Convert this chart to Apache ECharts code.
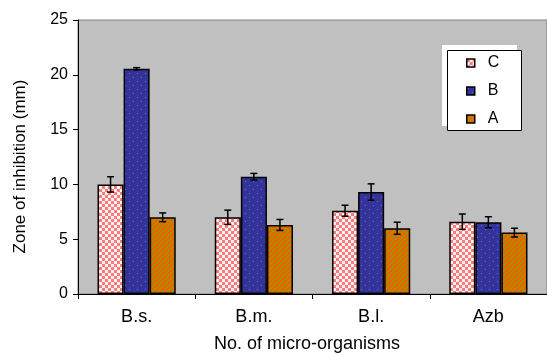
<!DOCTYPE html>
<html><head><meta charset="utf-8">
<script src="https://cdn.jsdelivr.net/npm/echarts@6/dist/echarts.min.js"></script>
<style>html,body{margin:0;padding:0;background:#fff}#c{width:547px;height:356px}</style>
</head><body><div id="c"></div>
<script>
const categories = ['B.s.', 'B.m.', 'B.l.', 'Azb'];
const seriesNames = ['C', 'B', 'A'];
const valuesC = [10.0, 7.0, 7.6, 6.6];
const valuesB = [20.55, 10.7, 9.3, 6.55];
const valuesA = [7.0, 6.3, 6.0, 5.6];
const errC = [0.7, 0.65, 0.5, 0.7];
const errB = [0.1, 0.3, 0.75, 0.5];
const errA = [0.4, 0.5, 0.55, 0.4];
const yTicks = [0, 5, 10, 15, 20, 25];
const xTitle = 'No. of micro-organisms';
const yTitle = 'Zone of inhibition (mm)';

const FONT = "'Liberation Sans', Arial, sans-serif";

function tile(w, h, draw) {
  const c = document.createElement('canvas');
  c.width = w; c.height = h;
  draw(c.getContext('2d'));
  return c;
}
const patC = tile(6, 6, g => {
  g.fillStyle = '#fff2f2'; g.fillRect(0, 0, 6, 6);
  g.fillStyle = '#ff7b7b'; g.fillRect(0, 0, 3, 3); g.fillRect(3, 3, 3, 3);
});
const patB = tile(8, 8, g => {
  g.fillStyle = '#333399'; g.fillRect(0, 0, 8, 8);
  g.fillStyle = '#6b6bd0'; g.fillRect(1, 1, 1, 1); g.fillRect(5, 5, 1, 1);
});
const patA = tile(5, 5, g => {
  for (let x = 0; x < 5; x++) for (let y = 0; y < 5; y++) {
    g.fillStyle = ((x + y) % 5 < 3) ? '#ff5a00' : '#8ca000';
    g.fillRect(x, y, 1, 1);
  }
});
const patterns = [patC, patB, patA];
const values = [valuesC, valuesB, valuesA];
const errs = [errC, errB, errA];

const GAP = 0.333;
const barSeries = seriesNames.map((n, k) => ({
  name: n, type: 'bar', data: values[k],
  barGap: '0%', barCategoryGap: '33.3%',
  itemStyle: { color: { image: patterns[k], repeat: 'repeat' }, borderColor: '#000', borderWidth: 1.5 },
  z: 2
}));
const errSeries = seriesNames.map((n, k) => ({
  type: 'custom', z: 5, silent: true,
  data: categories.map((c, i) => [i, values[k][i], errs[k][i]]),
  renderItem: function (params, api) {
    const i = api.value(0), v = api.value(1), e = api.value(2);
    const band = api.size([1, 0])[0];
    const bw = band * (1 - GAP) / 3;
    const x = api.coord([i, v])[0] + (k - 1) * bw;
    const yt = api.coord([i, v + e])[1];
    const yb = api.coord([i, v - e])[1];
    const cw = 3.5;
    const st = { stroke: '#000', lineWidth: 1.5 };
    return { type: 'group', children: [
      { type: 'line', shape: { x1: x, y1: yt, x2: x, y2: yb }, style: st },
      { type: 'line', shape: { x1: x - cw, y1: yt, x2: x + cw, y2: yt }, style: st },
      { type: 'line', shape: { x1: x - cw, y1: yb, x2: x + cw, y2: yb }, style: st }
    ] };
  }
}));

const chart = echarts.init(document.getElementById('c'), null, { renderer: 'canvas' });
chart.setOption({
  animation: false,
  textStyle: { fontFamily: FONT },
  grid: { left: 78, top: 20, width: 479, height: 274, show: true, backgroundColor: '#c0c0c0', borderColor: '#808080', borderWidth: 1 },
  legend: {
    data: seriesNames, orient: 'vertical', left: 466, top: 54, icon: 'rect',
    padding: 0, itemGap: 10, itemWidth: 8, itemHeight: 8,
    textStyle: { fontSize: 16, color: '#000', lineHeight: 18, fontFamily: FONT, padding: [0, 0, 0, 8] },
    itemStyle: { borderWidth: 1.5, borderColor: '#000' },
    z: 10
  },
  graphic: [
    { type: 'rect', z: 6, shape: { x: 442, y: 45, width: 75, height: 81 }, style: { fill: '#fff' } },
    { type: 'rect', z: 7, shape: { x: 447.5, y: 50.5, width: 74, height: 80 }, style: { fill: '#fff', stroke: '#000', lineWidth: 1 } },
    { type: 'text', z: 7, style: { text: xTitle, font: '18px ' + FONT, fill: '#000', x: 307, y: 344, textAlign: 'center', textVerticalAlign: 'middle' } },
    { type: 'text', z: 7, x: 20, y: 166.5, rotation: Math.PI / 2, style: { text: yTitle, font: '17px ' + FONT, fill: '#000', x: 0, y: 0, textAlign: 'center', textVerticalAlign: 'middle' } }
  ],
  xAxis: {
    type: 'category', data: categories,
    axisLine: { lineStyle: { color: '#000', width: 1 } },
    axisTick: { show: true, length: 5, lineStyle: { color: '#000' } },
    axisLabel: { fontSize: 18, color: '#000', margin: 14, fontFamily: FONT }
  },
  yAxis: {
    type: 'value', min: yTicks[0], max: yTicks[yTicks.length - 1], interval: 5,
    axisLine: { show: true, lineStyle: { color: '#000', width: 1 } },
    axisTick: { show: true, length: 5, lineStyle: { color: '#000' } },
    axisLabel: { fontSize: 16, color: '#000', margin: 10, fontFamily: FONT },
    splitLine: { show: false }
  },
  series: [...barSeries, ...errSeries]
});
</script></body></html>
